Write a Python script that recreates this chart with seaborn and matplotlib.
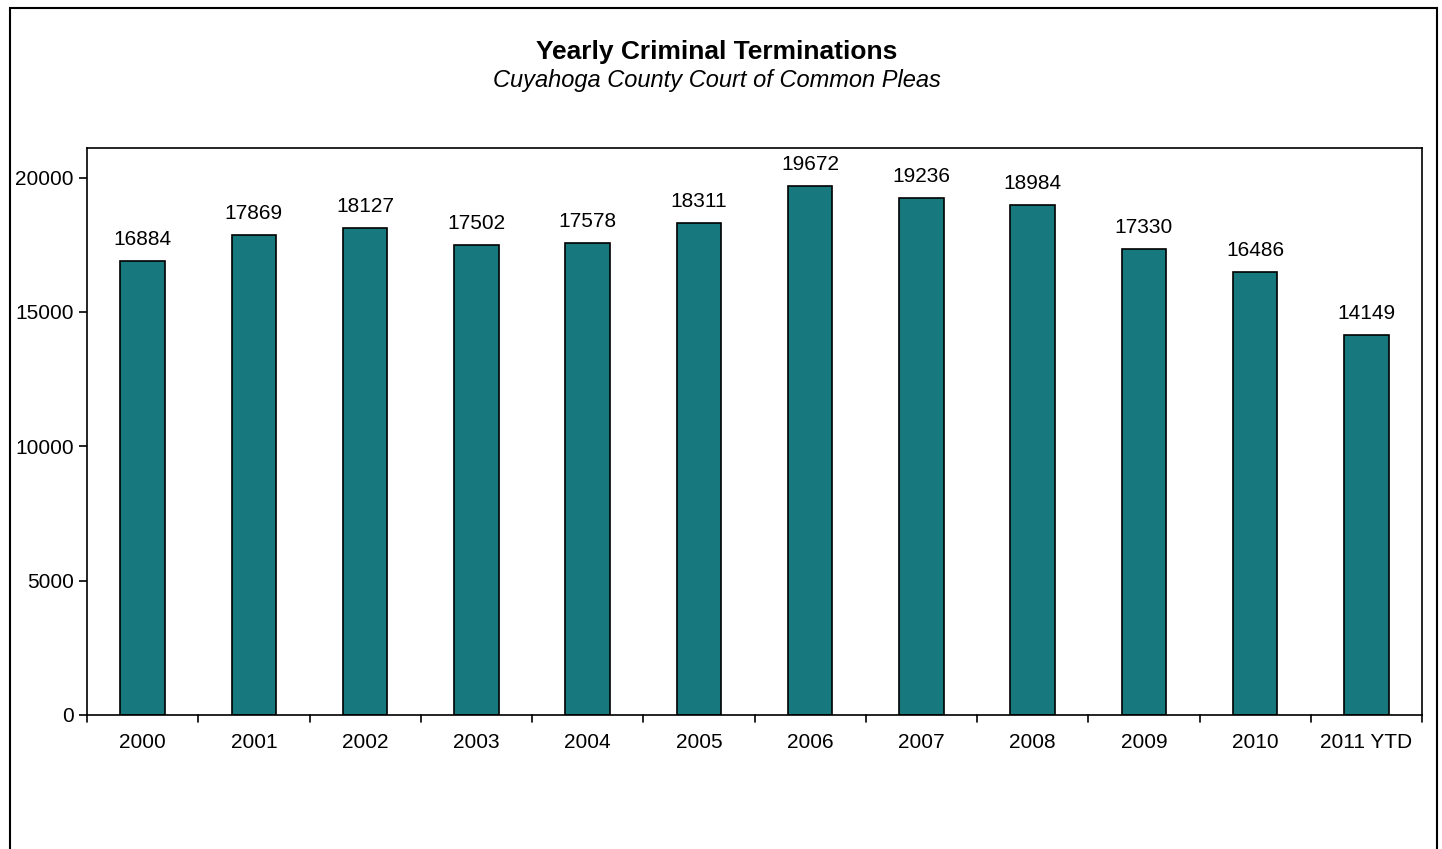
import matplotlib
matplotlib.use('Agg')
import matplotlib.pyplot as plt
from matplotlib.patches import Rectangle
import seaborn as sns
import pandas as pd

years = ['2000', '2001', '2002', '2003', '2004', '2005', '2006', '2007',
         '2008', '2009', '2010', '2011 YTD']
terminations = [16884, 17869, 18127, 17502, 17578, 18311, 19672, 19236,
                18984, 17330, 16486, 14149]
yticks = [0, 5000, 10000, 15000, 20000]

df = pd.DataFrame({'year': years, 'count': terminations})

sns.set_style('white')
plt.rcParams['font.family'] = ['Liberation Sans', 'DejaVu Sans']
plt.rcParams['text.color'] = 'black'
plt.rcParams['xtick.color'] = 'black'
plt.rcParams['ytick.color'] = 'black'

fig = plt.figure(figsize=(14.42, 8.49), dpi=100)
ax = fig.add_axes([87 / 1442, 1 - 715 / 849, (1422 - 87) / 1442, (715 - 148) / 849])

sns.barplot(data=df, x='year', y='count', color='#17787e', saturation=1,
            width=0.4, edgecolor='black', linewidth=1.2, ax=ax)

ax.set_xlim(-0.5, len(years) - 0.5)
ax.set_ylim(0, 21100)
ax.set_yticks(yticks)
ax.set_yticklabels([str(v) for v in yticks], fontsize=15)
ax.set_xlabel('')
ax.set_ylabel('')
ax.tick_params(axis='x', length=0, labelsize=15, pad=13)
ax.tick_params(axis='y', length=6, direction='out', left=True, width=1.2)

# category separator ticks on the x axis
for i in range(len(years) + 1):
    ax.plot([i - 0.5, i - 0.5], [0, -250], color='black', lw=1.2, clip_on=False)

for sp in ax.spines.values():
    sp.set_color('black')
    sp.set_linewidth(1.2)

for i, v in enumerate(terminations):
    ax.text(i, v + 450, str(v), ha='center', va='bottom', fontsize=15)

fig.text(0.497, 1 - 52 / 849, 'Yearly Criminal Terminations', ha='center',
         va='center', fontsize=19, fontweight='bold')
fig.text(0.497, 1 - 80 / 849, 'Cuyahoga County Court of Common Pleas',
         ha='center', va='center', fontsize=17, style='italic')

# outer chart border
fig.patches.append(Rectangle((10 / 1442, -0.01), 1427 / 1442, 1 - 8 / 849 + 0.01,
                             transform=fig.transFigure, fill=False,
                             edgecolor='black', lw=1.5))

fig.savefig('out.png', dpi=100)
